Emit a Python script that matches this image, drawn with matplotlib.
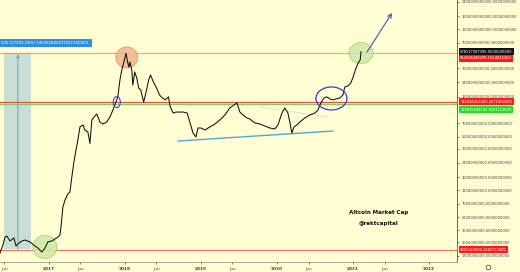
import matplotlib
matplotlib.use("Agg")
import matplotlib.pyplot as plt
import matplotlib.dates as mdates
import matplotlib.transforms as mtransforms
from matplotlib.patches import Ellipse, Rectangle
from matplotlib.lines import Line2D
import pandas as pd

# altcoin market cap, billions of USD
dates = [
    "2016-05-11", "2016-05-25", "2016-06-04", "2016-06-13", "2016-06-28", "2016-07-17",
    "2016-07-27", "2016-08-05", "2016-08-24", "2016-09-08", "2016-10-02", "2016-10-26",
    "2016-11-09", "2016-11-28", "2016-12-13", "2016-12-27", "2017-01-15", "2017-01-30",
    "2017-02-13", "2017-02-23", "2017-02-28", "2017-03-09", "2017-03-19", "2017-04-02",
    "2017-04-12", "2017-04-21", "2017-05-01", "2017-05-11", "2017-05-20", "2017-05-30",
    "2017-06-13", "2017-06-23", "2017-07-07", "2017-07-17", "2017-07-26", "2017-08-10",
    "2017-08-19", "2017-09-03", "2017-09-17", "2017-10-06", "2017-10-21", "2017-11-04",
    "2017-11-19", "2017-11-28", "2017-12-08", "2017-12-17", "2017-12-27", "2018-01-06",
    "2018-01-15", "2018-01-20", "2018-01-25", "2018-02-03", "2018-02-08", "2018-02-17",
    "2018-02-27", "2018-03-08", "2018-03-18", "2018-04-01", "2018-04-15", "2018-04-25",
    "2018-05-04", "2018-05-18", "2018-06-02", "2018-06-16", "2018-06-30", "2018-07-14",
    "2018-07-29", "2018-08-07", "2018-08-21", "2018-09-04", "2018-09-23", "2018-10-08",
    "2018-10-27", "2018-11-10", "2018-11-24", "2018-12-08", "2018-12-18", "2019-01-01",
    "2019-01-20", "2019-02-13", "2019-03-09", "2019-04-02", "2019-04-26", "2019-05-20",
    "2019-06-08", "2019-06-23", "2019-07-07", "2019-07-22", "2019-08-10", "2019-08-24",
    "2019-09-17", "2019-10-11", "2019-11-04", "2019-11-28", "2019-12-22", "2020-01-06",
    "2020-01-25", "2020-02-08", "2020-02-23", "2020-03-03", "2020-03-13", "2020-03-23",
    "2020-04-06", "2020-04-20", "2020-05-14", "2020-06-07", "2020-07-01", "2020-07-16",
    "2020-07-30", "2020-08-14", "2020-08-28", "2020-09-11", "2020-09-26", "2020-10-10",
    "2020-10-29", "2020-11-13", "2020-11-22", "2020-12-07", "2020-12-21", "2021-01-01",
    "2021-01-15", "2021-01-25", "2021-02-04", "2021-02-08",
]
cap_bn = [
    1.83, 2.30, 2.89, 2.97, 2.58, 2.81,
    2.23, 2.37, 2.58, 2.65, 2.51, 2.23,
    2.11, 1.88, 2.11, 2.51, 2.58, 2.73,
    2.89, 3.06, 3.85, 6.8, 8.3, 9.9,
    10.5, 16.1, 24.7, 34.8, 46.3, 67.2,
    71.2, 61.7, 58.3, 42.0, 82.1, 92.1,
    97.5, 77.5, 73.2, 77.5, 89.5, 109,
    137, 159, 258, 343, 431, 552.6,
    419, 374, 431, 343, 223, 324,
    273, 205, 194, 137, 194, 258,
    297, 243, 205, 168, 154, 146,
    159, 119, 100, 103, 103, 103,
    100, 75.4, 56.6, 50.5, 65.3, 65.3,
    61.7, 67.2, 73.2, 82.1, 94.7, 116,
    126, 134, 103, 94.7, 87.0, 84.5,
    75.4, 73.2, 69.1, 65.3, 63.5, 71.2,
    100, 116, 100, 77.5, 56.6, 67.2,
    71.2, 77.5, 87.0, 94.7, 100, 109,
    134, 154, 159, 150, 146, 150,
    154, 168, 211, 217, 237, 281,
    363, 419, 457, 578.1,
]

# horizontal levels (USD) and their price tags
levels = [552586488298.1554, 135836054983.4571, 128815604106.8261, 2021149606.2482733]
level_colors = ["#f3a393", "#e0504a", "#7fd05a", "#ec7a68"]
tag_texts = ["578117907395.0000000000", "552586488298.1554022400",
             "135836054983.4571008000", "128815604106.8261113600",
             "2021149606.2482733200"]
tag_values = [578117907395.0, 552586488298.1554, 135836054983.4571,
              128815604106.8261, 2021149606.2482733]
tag_colors = ["#111111", "#ff1a1a", "#ff1a1a", "#22dd22", "#ff1a1a"]
tag_shift_pt = [0, -3.4, 0.6, -4.1, 0]

ytick_values = [2.4e12, 1.6e12, 1.1e12, 7.5e11, 3.6e11, 2.4e11, 1.6e11, 7.5e10,
                5.1e10, 3.6e10, 2.4e10, 1.6e10, 1.1e10, 7.5e9, 5.1e9, 3.5e9, 2.5e9, 1.7e9]

year_ticks = ["2017", "2018", "2019", "2020", "2021", "2022"]
jun_ticks = ["2016-06-01", "2017-06-01", "2018-06-01", "2019-06-01", "2020-06-01", "2021-06-01"]

bg = "#fffdd2"
W, H = 520, 272
fig = plt.figure(figsize=(W / 100, H / 100), dpi=100, facecolor=bg)
ax = fig.add_axes([0, (H - 261.5) / H, 457 / W, 261.5 / H])
ax.set_facecolor(bg)
ax.set_yscale("log")
ax.set_xlim(pd.Timestamp("2016-05-11"), pd.Timestamp("2022-05-15"))
ax.set_ylim(1.434e9, 2.541e12)
ax.set_autoscale_on(False)

x = pd.to_datetime(dates)
y = [v * 1e9 for v in cap_bn]

for lv, c in zip(levels, level_colors):
    ax.axhline(lv, color=c, lw=0.9, zorder=2)

# measurement box on the left
x0 = mdates.date2num(pd.Timestamp("2016-05-30"))
x1 = mdates.date2num(pd.Timestamp("2016-10-07"))
ax.add_patch(Rectangle((x0, 2.04e9), x1 - x0, 5.526e11 - 2.04e9,
                       facecolor="#cadfd4", edgecolor="none", zorder=1))
ax.plot([x0, x1], [5.526e11, 5.526e11], color="#9aa6c8", lw=0.6, zorder=2)
ax.annotate("", xy=(pd.Timestamp("2016-08-05"), 5.4e11),
            xytext=(pd.Timestamp("2016-08-05"), 2.04e9),
            arrowprops=dict(arrowstyle="->", color="#6a9ec6", lw=0.7,
                            shrinkA=0, shrinkB=0, mutation_scale=5), zorder=2)

# trend lines
ax.plot(pd.to_datetime(["2018-09-14", "2020-09-26"]), [45.0e9, 59.9e9],
        color="#5aa2dc", lw=1.0, zorder=2)
ax.plot(pd.to_datetime(["2019-10-11", "2020-08-28"]), [119e9, 89.5e9],
        color="#d3dde0", lw=0.6, zorder=2)

ax.plot(x, y, color="#111111", lw=0.75, zorder=4)


def ring(date, value, w_px, h_px, **kw):
    xd = mdates.date2num(pd.Timestamp(date))
    tr = fig.dpi_scale_trans + mtransforms.ScaledTranslation(xd, value, ax.transData)
    ax.add_patch(Ellipse((0, 0), w_px / fig.dpi, h_px / fig.dpi, transform=tr, **kw))


ring("2018-01-10", 491e9, 22, 21, facecolor="#f2b48e", edgecolor="#d98d68", lw=0.6, alpha=0.85, zorder=3)
ring("2021-02-08", 558e9, 24, 21, facecolor="#cfe8a5", edgecolor="#9ccd72", lw=0.6, alpha=0.85, zorder=3)
ring("2016-12-13", 2.17e9, 24, 23, facecolor="#cfe8a5", edgecolor="#9ccd72", lw=0.6, alpha=0.85, zorder=3)
ring("2017-11-23", 137e9, 7, 11, facecolor="none", edgecolor="#3f43c8", lw=0.8, zorder=5)
ring("2020-09-19", 152e9, 31, 23, facecolor="none", edgecolor="#3a3ccc", lw=0.9, zorder=5)

ax.annotate("", xy=(pd.Timestamp("2021-07-07"), 1752e9),
            xytext=(pd.Timestamp("2021-03-09"), 574e9),
            arrowprops=dict(arrowstyle="->", color="#3a52d2", lw=0.8,
                            shrinkA=0, shrinkB=0, mutation_scale=7), zorder=5)

ax.text(pd.Timestamp("2021-05-05"), 5.9e9, "Altcoin Market Cap", fontsize=4.0,
        fontweight="bold", ha="center", va="center", color="#111111")
ax.text(pd.Timestamp("2021-05-05"), 4.2e9, "@rektcapital", fontsize=4.0,
        fontweight="bold", ha="center", va="center", color="#111111")

# axes styling
for s in ["top", "left"]:
    ax.spines[s].set_visible(False)
ax.spines["right"].set_color("#555555")
ax.spines["right"].set_linewidth(0.6)
ax.spines["bottom"].set_color("#888888")
ax.spines["bottom"].set_linewidth(0.5)

ax.yaxis.tick_right()
ax.set_yticks(ytick_values)
ax.set_yticklabels(["%d.0000000000" % v for v in ytick_values])
ax.yaxis.set_minor_locator(matplotlib.ticker.NullLocator())
ax.tick_params(axis="y", which="major", direction="out", length=1.5, width=0.5,
               pad=2.2, labelsize=2.65, colors="#444444")

xt = [pd.Timestamp(t + "-01-01") for t in year_ticks] + [pd.Timestamp(t) for t in jun_ticks]
xl = year_ticks + ["Jun"] * len(jun_ticks)
ax.set_xticks(xt)
ax.set_xticklabels(xl)
ax.tick_params(axis="x", direction="out", length=1.5, width=0.5, pad=2.5,
               labelsize=3.1, colors="#444444")
for lab in ax.get_xticklabels():
    if lab.get_text() != "Jun":
        lab.set_fontweight("bold")

for txt, v, c, dy in zip(tag_texts, tag_values, tag_colors, tag_shift_pt):
    ax.annotate(txt, xy=(1, v), xycoords=("axes fraction", "data"),
                xytext=(2.3, dy), textcoords="offset points", ha="left", va="center",
                fontsize=2.65, color="white", annotation_clip=False, zorder=10,
                bbox=dict(boxstyle="square,pad=0.4", facecolor=c, edgecolor="none"))

# measurement readout on the top left
fig.patches.append(Rectangle((0, 1 - 47 / H), 92 / W, 8 / H, transform=fig.transFigure,
                             facecolor="#2e8de4", edgecolor="none", figure=fig))
fig.text(1 / W, 1 - 43 / H, "500 (27032.28%) 546362890672551700000", fontsize=2.75,
         color="white", ha="left", va="center")

fig.add_artist(Line2D([488 / W], [1 - 267 / H], marker="8", markersize=3.5,
                      markerfacecolor="none", markeredgecolor="#555555",
                      markeredgewidth=0.6, transform=fig.transFigure))

fig.savefig("out.png", dpi=100, facecolor=bg)
